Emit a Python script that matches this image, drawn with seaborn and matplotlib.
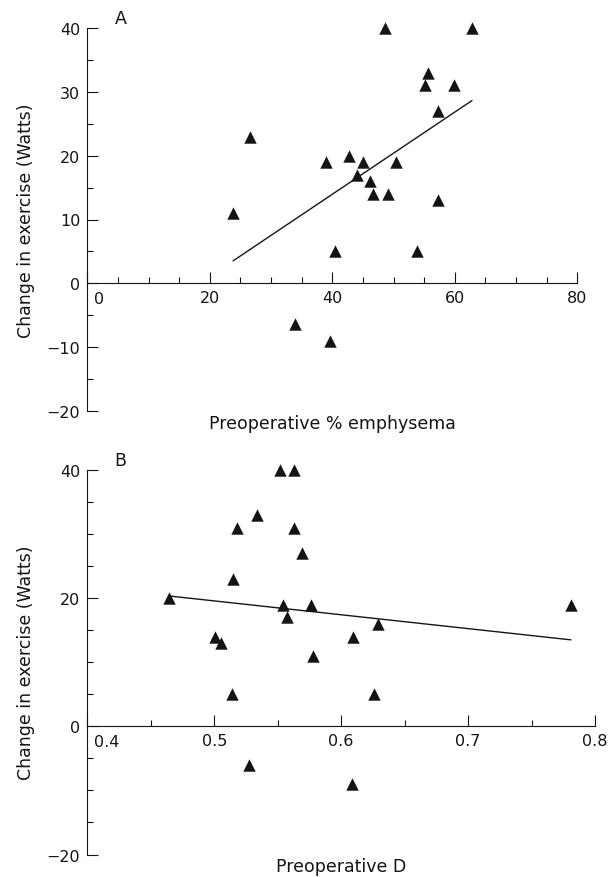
import numpy as np
import pandas as pd
import matplotlib
matplotlib.use("Agg")
import matplotlib.pyplot as plt
from matplotlib.ticker import MultipleLocator
import seaborn as sns

# Panel A: preoperative % emphysema vs change in exercise (Watts)
emph_x = [48.6, 62.8, 55.6, 55.2, 59.9, 57.2, 26.5, 42.8, 38.9, 45.0, 50.4,
          44.0, 46.1, 46.6, 49.1, 57.3, 23.8, 40.5, 53.8, 33.9, 39.6]
emph_y = [40, 40, 33, 31, 31, 27, 23, 20, 19, 19, 19,
          17, 16, 14, 14, 13, 11, 5, 5, -6.3, -9.1]
emph_ticks = [0, 20, 40, 60, 80]
emph_ticklabels = ["0", "20", "40", "60", "80"]

# Panel B: preoperative D vs change in exercise (Watts)
d_x = [0.552, 0.5625, 0.534, 0.518, 0.5625, 0.569, 0.5147, 0.4646, 0.5538,
       0.5762, 0.781, 0.5572, 0.6292, 0.5006, 0.6092, 0.5053, 0.5777,
       0.5137, 0.6255, 0.5277, 0.6083]
d_y = [40, 40, 33, 31, 31, 27, 23, 20, 19,
       19, 19, 17, 16, 14, 14, 13, 11,
       5, 5, -6, -9]
d_ticks = [0.4, 0.5, 0.6, 0.7, 0.8]
d_ticklabels = ["0.4", "0.5", "0.6", "0.7", "0.8"]

df_a = pd.DataFrame({"x": emph_x, "y": emph_y})
df_b = pd.DataFrame({"x": d_x, "y": d_y})

sns.set_theme(style="ticks")
plt.rcParams["font.family"] = ["DejaVu Sans"]

W, H = 613, 878
fig = plt.figure(figsize=(W / 100, H / 100), dpi=100)

def px_axes(l, r, t, b):
    return fig.add_axes([l / W, 1 - b / H, (r - l) / W, (b - t) / H])

ax_a = px_axes(87.3, 577.3, 29, 412)
ax_b = px_axes(87.3, 595, 471, 855.5)

fs = 11.5
color = "#141414"

def style(ax, df, xlim, xticks, xticklabels, xminor, ymajor, xlabel, letter):
    sns.regplot(data=df, x="x", y="y", ax=ax, ci=None, marker="^",
                scatter_kws=dict(s=80, color=color, edgecolor=color,
                                 linewidths=0, alpha=1, clip_on=False, zorder=3),
                line_kws=dict(color=color, lw=1.0))
    ax.set_xlim(*xlim)
    ax.set_ylim(-20, 40)
    ax.spines["top"].set_visible(False)
    ax.spines["right"].set_visible(False)
    ax.spines["bottom"].set_position(("data", 0))
    for s in ("left", "bottom"):
        ax.spines[s].set_linewidth(0.8)
        ax.spines[s].set_color(color)
    ax.set_xticks(xticks)
    ax.set_xticklabels([""] + xticklabels[1:])
    ax.xaxis.set_minor_locator(MultipleLocator(xminor))
    ax.yaxis.set_major_locator(MultipleLocator(ymajor))
    ax.yaxis.set_minor_locator(MultipleLocator(5))
    ax.tick_params(which="both", direction="in", color=color, width=0.8,
                   labelsize=fs, labelcolor=color)
    ax.tick_params(which="major", length=8, pad=5)
    ax.tick_params(which="minor", length=4)
    ax.tick_params(axis="x", which="minor", length=4.5)
    # first x tick label sits just right of the y spine
    ax.annotate(xticklabels[0], xy=(xticks[0], 0), xycoords="data",
                xytext=(4.7, -5.5), textcoords="offset points",
                ha="left", va="top", fontsize=fs, color=color)
    ax.set_xlabel(xlabel, fontsize=fs + 1, color=color)
    ax.set_ylabel("Change in exercise (Watts)", fontsize=fs + 1, color=color)
    ax.xaxis.label.set_va("center")
    ax.yaxis.label.set_va("center")
    bbox_h = ax.get_position().height * H
    bbox_w = ax.get_position().width * W
    ax.xaxis.set_label_coords(0.5, -12 / bbox_h)
    ax.yaxis.set_label_coords(-61 / bbox_w, 0.5)
    ax.text(33 / bbox_w, 1 + 10 / bbox_h, letter, transform=ax.transAxes,
            fontsize=fs + 1, color=color, ha="center", va="center")

style(ax_a, df_a, (0, 80), emph_ticks, emph_ticklabels, 5, 10,
      "Preoperative % emphysema", "A")
style(ax_b, df_b, (0.4, 0.8), d_ticks, d_ticklabels, 0.05, 20,
      "Preoperative D", "B")

fig.savefig("out.png", dpi=100)
